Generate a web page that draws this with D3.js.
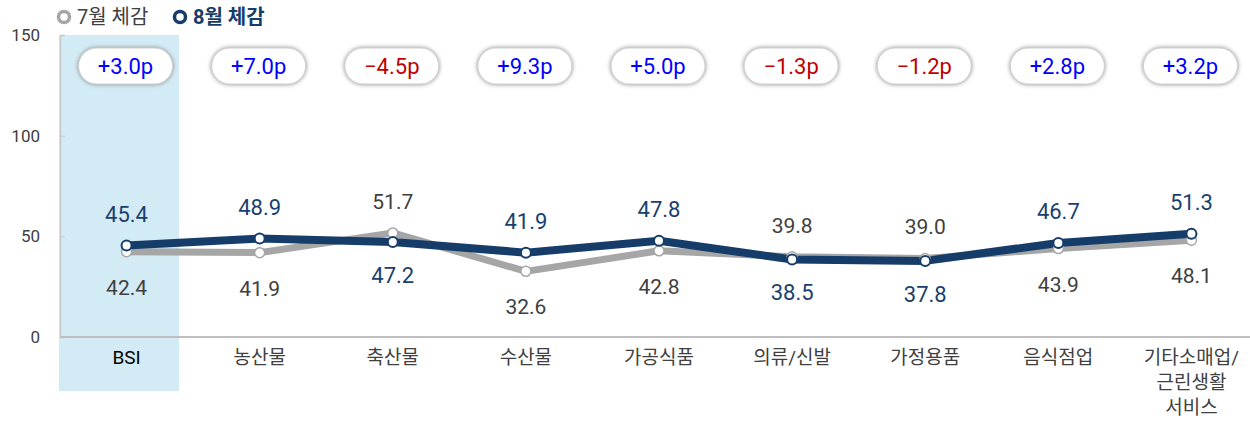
<!DOCTYPE html>
<html lang="ko">
<head>
<meta charset="UTF-8">
<script src="https://d3js.org/d3.v7.min.js"></script>
<style>
  html, body { margin: 0; padding: 0; background: #fff; overflow: hidden; }
  svg { display: block; font-family: Roboto, "Noto Sans CJK KR", sans-serif; }
</style>
</head>
<body>
<svg id="chart" width="1250" height="424"></svg>
<script>
// categories and series
const categories = ["BSI", "농산물", "축산물", "수산물", "가공식품", "의류/신발", "가정용품", "음식점업", "기타소매업/\n근린생활\n서비스"];
const july = [42.4, 41.9, 51.7, 32.6, 42.8, 39.8, 39.0, 43.9, 48.1];
const august = [45.4, 48.9, 47.2, 41.9, 47.8, 38.5, 37.8, 46.7, 51.3];
const diffLabels = ["+3.0p", "+7.0p", "\u22124.5p", "+9.3p", "+5.0p", "\u22121.3p", "\u22121.2p", "+2.8p", "+3.2p"];
const yTicks = [0, 50, 100, 150];
const seriesNames = ["7월 체감", "8월 체감"];

const svg = d3.select("#chart");
const x = d3.scaleBand().domain(categories).range([60, 1258]);
const y = d3.scaleLinear().domain([0, 150]).range([337, 35]);

const navy = "#163d6a", gray = "#a6a6a6";

// shadow filter for pills
const defs = svg.append("defs");
const f = defs.append("filter").attr("id", "shadow").attr("x", "-20%").attr("y", "-40%").attr("width", "140%").attr("height", "180%");
f.append("feGaussianBlur").attr("in", "SourceAlpha").attr("stdDeviation", 2.2).attr("result", "b");
f.append("feFlood").attr("flood-color", "#888").attr("result", "c");
f.append("feComposite").attr("in", "c").attr("in2", "b").attr("operator", "in").attr("result", "s");
const m = f.append("feMerge");
m.append("feMergeNode").attr("in", "s");
m.append("feMergeNode").attr("in", "SourceGraphic");

// highlight for BSI
svg.append("rect")
  .attr("x", x("BSI") - 1).attr("y", y(150))
  .attr("width", x.bandwidth() - 13).attr("height", 391 - y(150))
  .attr("fill", "#d3ebf5");

// y axis
const yAxis = svg.append("g").attr("transform", "translate(60,0)")
  .call(d3.axisLeft(y).tickValues(yTicks).tickSize(-5).tickPadding(20).tickFormat(d3.format("d")));
yAxis.select(".domain").attr("stroke", "#c8c8c8").attr("stroke-width", 1.5);
yAxis.selectAll(".tick line").attr("stroke", "#c8c8c8");
yAxis.selectAll(".tick text").attr("font-size", 17).attr("fill", "#404040")
  .attr("font-family", "Roboto, sans-serif");

// x axis baseline
svg.append("line")
  .attr("x1", 60).attr("x2", 1250).attr("y1", y(0)).attr("y2", y(0))
  .attr("stroke", "#bfbfbf").attr("stroke-width", 2);

// category labels
categories.forEach((c, i) => {
  const t = svg.append("text")
    .attr("x", x(c) + x.bandwidth() / 2).attr("y", 364)
    .attr("text-anchor", "middle").attr("font-size", 19)
    .attr("fill", i === 0 ? "#000" : "#404040");
  c.split("\n").forEach((part, j) => {
    t.append("tspan").attr("x", x(c) + x.bandwidth() / 2).attr("dy", j === 0 ? 0 : 25).text(part);
  });
});

const cx = (d, i) => x(categories[i]) + x.bandwidth() / 2;
const line = d3.line().x((d, i) => cx(d, i)).y(d => y(d));

// lines
svg.append("path").datum(july).attr("d", line)
  .attr("fill", "none").attr("stroke", gray).attr("stroke-width", 7).attr("stroke-linejoin", "round");
svg.append("path").datum(august).attr("d", line)
  .attr("fill", "none").attr("stroke", navy).attr("stroke-width", 8).attr("stroke-linejoin", "round");

// markers
svg.selectAll(".mj").data(july).enter().append("circle")
  .attr("cx", cx).attr("cy", d => y(d)).attr("r", 5)
  .attr("fill", "#fff").attr("stroke", gray).attr("stroke-width", 1.5);
svg.selectAll(".ma").data(august).enter().append("circle")
  .attr("cx", cx).attr("cy", d => y(d)).attr("r", 5)
  .attr("fill", "#fff").attr("stroke", navy).attr("stroke-width", 2);

// value labels
august.forEach((v, i) => {
  const up = v >= july[i];
  svg.append("text")
    .attr("x", cx(v, i)).attr("y", up ? y(v) - 24 : y(v) + 41)
    .attr("text-anchor", "middle").attr("font-size", 22)
    .attr("fill", "#1a3f6e").text(v.toFixed(1));
  const j = july[i];
  svg.append("text")
    .attr("x", cx(j, i)).attr("y", up ? y(j) + 43 : y(j) - 24)
    .attr("text-anchor", "middle").attr("font-size", 21)
    .attr("fill", "#404040").text(j.toFixed(1));
});

// difference pills
diffLabels.forEach((d, i) => {
  const px = x(categories[i]) + x.bandwidth() / 2 - 1;
  svg.append("rect")
    .attr("x", px - 47).attr("y", 48).attr("width", 94).attr("height", 36).attr("rx", 18)
    .attr("fill", "#fff").attr("stroke", "#d0d0d0").attr("stroke-width", 1)
    .attr("filter", "url(#shadow)");
  svg.append("text")
    .attr("x", px).attr("y", 74).attr("text-anchor", "middle").attr("font-size", 22)
    .attr("fill", d.startsWith("+") ? "#0000ff" : "#c00000").text(d);
});

// legend
const lg = svg.append("g");
lg.append("circle").attr("cx", 64).attr("cy", 17).attr("r", 5.5).attr("fill", "#fff").attr("stroke", gray).attr("stroke-width", 3.5);
lg.append("text").attr("x", 77).attr("y", 24).attr("font-size", 20).attr("fill", "#404040").text(seriesNames[0]);
lg.append("circle").attr("cx", 180).attr("cy", 17).attr("r", 5.5).attr("fill", "#fff").attr("stroke", navy).attr("stroke-width", 3.5);
lg.append("text").attr("x", 193).attr("y", 24).attr("font-size", 20).attr("font-weight", "bold").attr("fill", navy).text(seriesNames[1]);
</script>
</body>
</html>
